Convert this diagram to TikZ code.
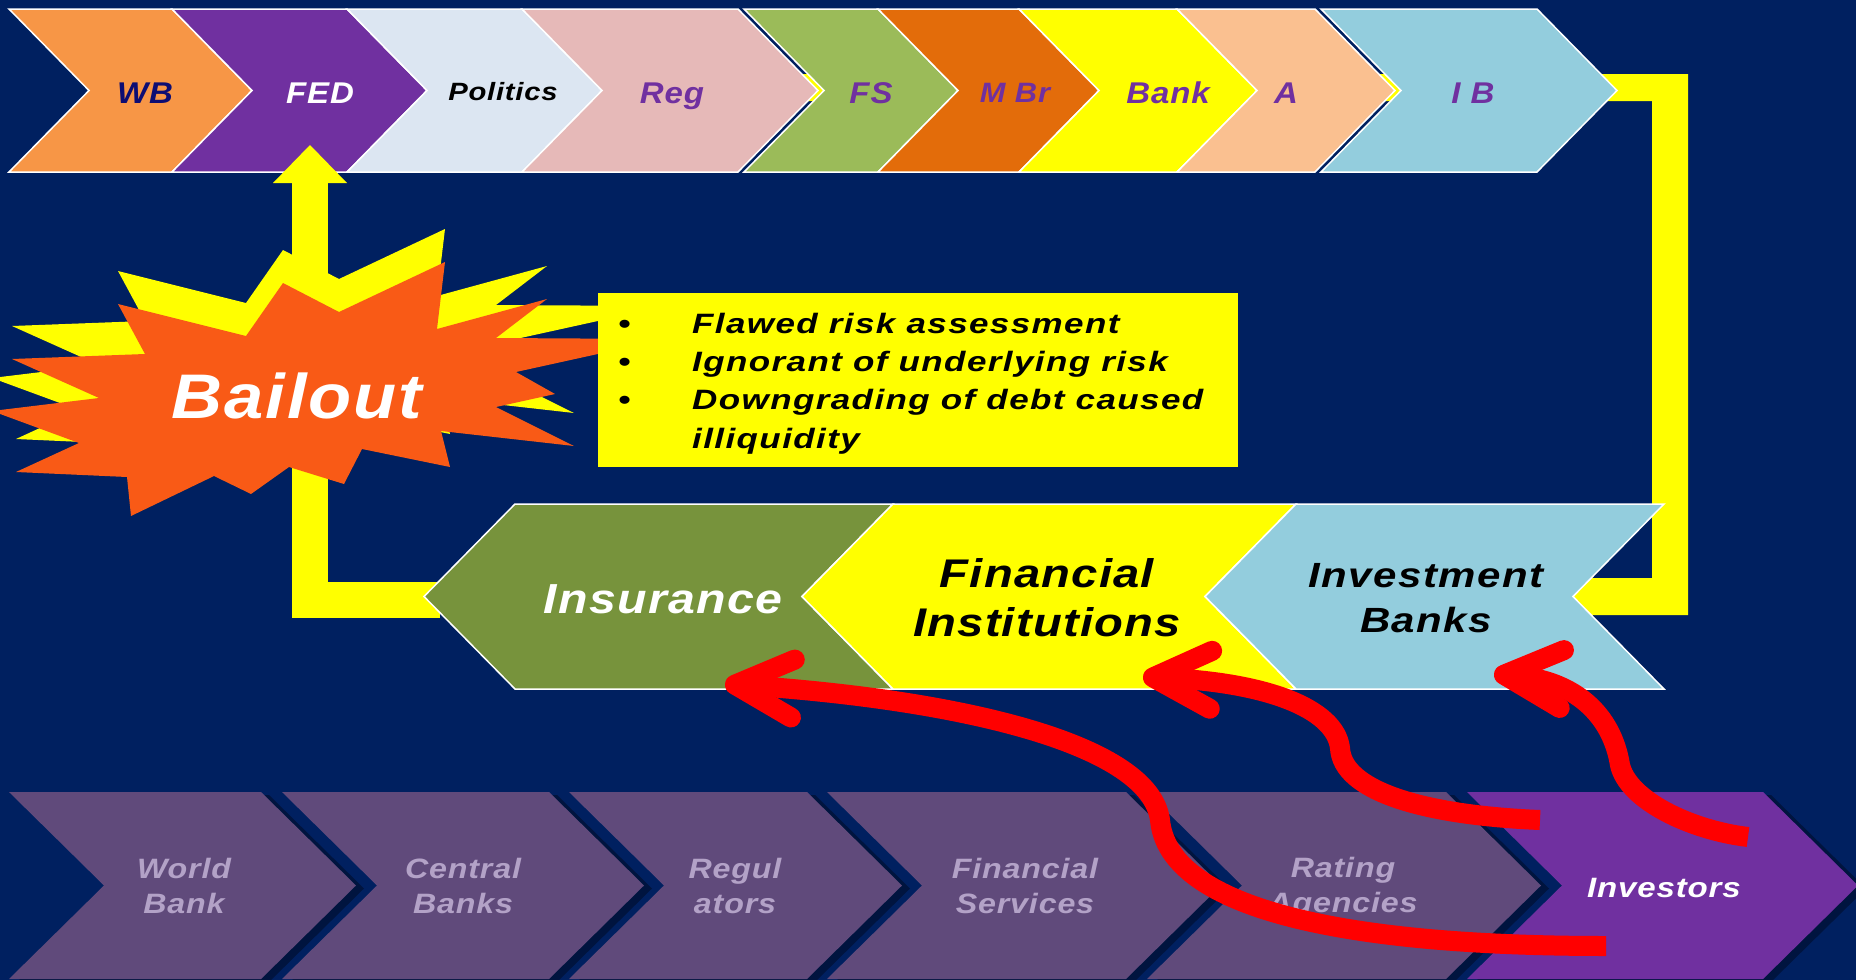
\documentclass[tikz,border=0pt]{standalone}
\usepackage{fontspec}
\setmainfont{Liberation Sans}
\usetikzlibrary{arrows.meta}
\definecolor{bg}{HTML}{002060}
\definecolor{ylw}{HTML}{FFFF00}
\definecolor{cBurst}{HTML}{F95A16}
\definecolor{cWB}{HTML}{F79646}
\definecolor{cNavy}{HTML}{0D0D73}
\definecolor{cPurple}{HTML}{7030A0}
\definecolor{cPol}{HTML}{DCE6F2}
\definecolor{cReg}{HTML}{E6B9B8}
\definecolor{cFS}{HTML}{9BBB59}
\definecolor{cMBr}{HTML}{E36C0A}
\definecolor{cA}{HTML}{FAC090}
\definecolor{cIB}{HTML}{93CDDD}
\definecolor{cIns}{HTML}{77933C}
\definecolor{cMute}{HTML}{604A7B}
\definecolor{cMuteTxt}{HTML}{B3A2C7}
\definecolor{cShadow}{HTML}{00143F}
\newcommand\bfit{\bfseries\itshape}
% size, baselineskip, horizontal stretch, letter spacing
\newcommand\fnt[4]{\fontsize{#1}{#2}\selectfont\bfit\addfontfeatures{FakeStretch=#3,LetterSpace=#4}}
\def\chevD{80}
% right-pointing chevron: style, left x, right x, top y, bottom y
\newcommand\chevR[5]{%
  \path[#1] (#2,#4) -- (#3,#4) -- ({#3+\chevD},{(#4+#5)/2}) -- (#3,#5) -- (#2,#5) -- ({#2+\chevD},{(#4+#5)/2}) -- cycle;}
% left-pointing chevron
\newcommand\chevL[5]{%
  \path[#1] (#2,#4) -- (#3,#4) -- ({#3-\chevD},{(#4+#5)/2}) -- (#3,#5) -- (#2,#5) -- ({#2-\chevD},{(#4+#5)/2}) -- cycle;}
\newcommand\lowchev[3]{%
  \chevR{fill=cShadow, shift={(8,3)}}{#1}{#2}{792}{979}%
  \chevR{fill=#3}{#1}{#2}{792}{979}}
\begin{document}
\begin{tikzpicture}[x=1pt,y=-1pt,
  topchev/.style={fill=#1, draw=white, line width=1.5pt, line join=miter},
  midchev/.style={fill=#1, draw=white, line width=1.5pt, line join=miter},
  yline/.style={draw=ylw, line width=36pt, line join=miter},
  redarr/.style={draw=red, line width=20pt, -{Straight Barb[length=58pt, width=58pt, round]}},
  toplbl/.style={anchor=base, inner sep=0pt, text=#1, font=\fnt{30}{34}{1.1}{3}},
  midlbl/.style={inner sep=0pt, align=center, text=#1},
  lowlbl/.style={inner sep=0pt, align=center, text=cMuteTxt, font=\fnt{28}{35}{1.15}{3}},
  starburst/.pic={\fill[pic actions] (118,304) -- (246,336) -- (283,283) -- (339,312) -- (445,262) -- (437,329) -- (547,299) -- (496,338) -- (666,339) -- (516,372) -- (555,394) -- (496,407) -- (574,446) -- (441,431) -- (450,467) -- (362,449) -- (344,484) -- (289,467) -- (251,494) -- (214,476) -- (131,516) -- (127,477) -- (16,472) -- (79,443) -- (-8,411) -- (99,398) -- (12,359) -- (145,354) -- cycle;}
]
\useasboundingbox (0,0) rectangle (1856,980);
\fill[bg] (0,0) rectangle (1856,980);

% yellow loop, right part (behind the top and middle rows)
\fill[ylw] (800,74) -- (1688,74) -- (1688,615) -- (1560,615) -- (1560,578) -- (1652,578) -- (1652,101) -- (800,101) -- cycle;

% top row
\def\chevD{80}
\chevR{topchev=cWB}{9}{172}{9}{172}
\chevR{topchev=cPurple}{172}{347}{9}{172}
\chevR{topchev=cPol}{347}{522}{9}{172}
\chevR{topchev=cReg}{522}{738}{9}{172}
\chevR{topchev=cFS}{744}{878}{9}{172}
\chevR{topchev=cMBr}{878}{1019}{9}{172}
\chevR{topchev=ylw}{1019}{1177}{9}{172}
\chevR{topchev=cA}{1177}{1315}{9}{172}
\chevR{topchev=cIB}{1321}{1537}{9}{172}

\node[toplbl=cNavy] (wb) at (145,103) {WB};
\node[toplbl=white] (fed) at (320,103) {FED};
\node[toplbl=black, font=\fnt{25}{30}{1.17}{3}] (pol) at (503,100) {Politics};
\node[toplbl=cPurple] (reg) at (672,103) {Reg};
\node[toplbl=cPurple] (fs) at (871,103) {FS};
\node[toplbl=cPurple, font=\fnt{28}{32}{1.1}{3}] (mbr) at (1015,102) {M Br};
\node[toplbl=cPurple] (bank) at (1168,103) {Bank};
\node[toplbl=cPurple] (a) at (1286,103) {A};
\node[toplbl=cPurple] (ib) at (1473,103) {I B};

% yellow loop, left part with arrow into FED
\coordinate (insL) at (440,600);
\coordinate (cornerL) at (310,600);
\coordinate (fedB) at (310,145);
\draw[yline, -{Triangle[length=38pt, width=74pt, line width=0pt]}] (insL) -- (cornerL) -- (fedB);

% Bailout starburst
\pic[fill=ylw] at (0,-33) {starburst};
\pic[fill=cBurst] at (0,0) {starburst};
\node[anchor=base, inner sep=0pt, text=white, font=\fnt{63}{70}{1.12}{3}] (bail) at (297,418) {Bailout};

% text box
\node[fill=ylw, anchor=north west, minimum width=640pt, minimum height=174pt, inner sep=0pt] (box) at (598,293) {};
\node[anchor=north west, inner sep=0pt, font=\fnt{28}{38.4}{1.25}{5}] (btxt) at (618,306)
  {\begin{tabular}{@{}p{74pt}@{}l@{}}
   \textbullet & Flawed risk assessment\\
   \textbullet & Ignorant of underlying risk\\
   \textbullet & Downgrading of debt caused\\
               & illiquidity
   \end{tabular}};

% middle row
\def\chevD{91}
\chevL{midchev=cIns}{515}{893}{504}{689}
\chevL{midchev=ylw}{893}{1296}{504}{689}
\chevL{midchev=cIB}{1296}{1664}{504}{689}
\node[midlbl=white, anchor=base, font=\fnt{42}{48}{1.15}{3}] (ins) at (663,613) {Insurance};
\node[midlbl=black, font=\fnt{40}{49}{1.18}{3}] (fi) at (1047,598) {Financial\\Institutions};
\node[midlbl=black, font=\fnt{35}{45}{1.2}{4}] (ivb) at (1426,598) {Investment\\Banks};

% bottom row
\def\chevD{95}
\lowchev{9}{261}{cMute}
\lowchev{282}{549}{cMute}
\lowchev{569}{807}{cMute}
\lowchev{827}{1126}{cMute}
\lowchev{1147}{1446}{cMute}
\lowchev{1467}{1763}{cPurple}
\node[lowlbl] (wbk) at (184,885.5) {World\\Bank};
\node[lowlbl] (cbk) at (463,885.5) {Central\\Banks};
\node[lowlbl] (rgl) at (735,885.5) {Regul\\ators};
\node[lowlbl] (fsv) at (1025,885.5) {Financial\\Services};
\node[lowlbl] (rat) at (1343,888) {Rating\\Agencies};
\node[lowlbl, text=white, font=\fnt{28}{35}{1.18}{3}] (inv) at (1664,887.5) {Investors};

% red arrows from investors
\coordinate (r1s) at (1606,946);
\coordinate (r1m) at (1160,820);
\coordinate (r1e) at (725,684);
\coordinate (r2s) at (1540,820);
\coordinate (r2m) at (1340,748);
\coordinate (r2e) at (1143,677);
\coordinate (r3s) at (1748,837);
\coordinate (r3m) at (1620,765);
\coordinate (r3e) at (1494,674);
\draw[redarr] (r1s) .. controls (1330,946) and (1168,905) .. (r1m) .. controls (1150,745) and (965,700) .. (r1e);
\draw[redarr] (r2s) .. controls (1420,815) and (1342,790) .. (r2m) .. controls (1335,708) and (1265,682) .. (r2e);
\draw[redarr] (r3s) .. controls (1690,830) and (1628,800) .. (r3m) .. controls (1612,715) and (1575,680) .. (r3e);
\end{tikzpicture}
\end{document}
